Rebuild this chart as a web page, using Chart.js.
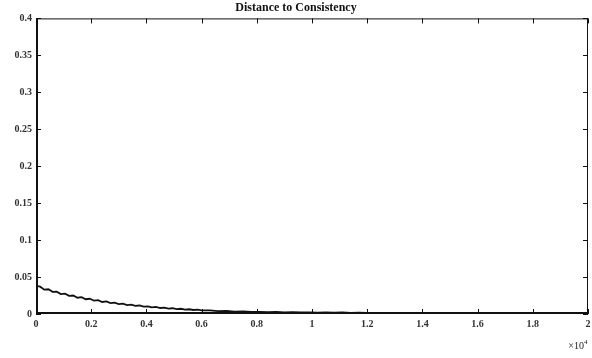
<!DOCTYPE html>
<html lang="en">
<head>
  <meta charset="UTF-8">
  <title>Distance to Consistency</title>
  <style>
    html, body { margin: 0; padding: 0; background: #fff; }
    #wrap { width: 592px; height: 358px; }
  </style>
  <script src="https://cdn.jsdelivr.net/npm/chart.js"></script>
</head>
<body>
  <div id="wrap"><canvas id="chart" width="592" height="358"></canvas></div>
  <script>
    // iterations (x 10^4)
    const iterations = [
      0, 0.015, 0.03, 0.045, 0.06, 0.075, 0.09, 0.105, 0.12, 0.135, 0.15, 0.165, 0.18, 0.195,
      0.21, 0.225, 0.24, 0.255, 0.27, 0.285, 0.3, 0.315, 0.33, 0.345, 0.36, 0.375, 0.39, 0.405,
      0.42, 0.435, 0.45, 0.465, 0.48, 0.495, 0.51, 0.525, 0.54, 0.555, 0.57, 0.585, 0.6,
      0.63, 0.66, 0.69, 0.72, 0.75, 0.78, 0.81, 0.84, 0.87, 0.9, 0.93, 0.96, 0.99,
      1.02, 1.05, 1.08, 1.11, 1.14, 1.17, 1.2, 1.25, 1.3, 1.4, 1.5, 1.6, 1.7, 1.8, 1.9, 2.0
    ];
    // distance to consistency
    const distance = [
      0.038, 0.037, 0.033, 0.0335, 0.030, 0.0303, 0.027, 0.0275, 0.0245, 0.025, 0.022, 0.0227, 0.020, 0.0206,
      0.018, 0.0187, 0.0163, 0.017, 0.0148, 0.0154, 0.0133, 0.014, 0.0121, 0.0127, 0.0109, 0.0115, 0.0099, 0.0104,
      0.0089, 0.0095, 0.0081, 0.0086, 0.0073, 0.0078, 0.0066, 0.0071, 0.006, 0.0064, 0.0054, 0.0058, 0.0049,
      0.005, 0.004, 0.0041, 0.0032, 0.0034, 0.0027, 0.0029, 0.0024, 0.0027, 0.0022, 0.0025, 0.002, 0.0023,
      0.0019, 0.0021, 0.0017, 0.002, 0.0016, 0.0018, 0.0014, 0.0013, 0.0011, 0.001, 0.0008, 0.0007, 0.0006, 0.0005, 0.0004, 0.0004
    ];
    const xTicks = [0, 0.2, 0.4, 0.6, 0.8, 1, 1.2, 1.4, 1.6, 1.8, 2];
    const yTicks = [0, 0.05, 0.1, 0.15, 0.2, 0.25, 0.3, 0.35, 0.4];

    const serif = "'Liberation Serif', 'DejaVu Serif', serif";

    // matlab-like frame: box + inward ticks on all four sides
    const framePlugin = {
      id: 'frame',
      afterDraw(chart) {
        const ctx = chart.ctx;
        const a = chart.chartArea;
        const xs = chart.scales.x, ys = chart.scales.y;
        ctx.save();
        ctx.strokeStyle = '#111';
        ctx.lineWidth = 1;
        ctx.strokeRect(a.left + 0.5, a.top + 0.5, a.right - a.left - 1, a.bottom - a.top - 1);
        ctx.lineWidth = 2;
        ctx.beginPath();
        ctx.moveTo(a.left + 1, a.top);
        ctx.lineTo(a.left + 1, a.bottom - 1);
        ctx.lineTo(a.right, a.bottom - 1);
        ctx.stroke();
        ctx.lineWidth = 1;
        ctx.beginPath();
        const len = 5;
        xTicks.forEach(v => {
          const px = Math.round(xs.getPixelForValue(v)) + 0.5;
          ctx.moveTo(px, a.bottom); ctx.lineTo(px, a.bottom - len);
          ctx.moveTo(px, a.top); ctx.lineTo(px, a.top + len);
        });
        yTicks.forEach(v => {
          const py = Math.round(ys.getPixelForValue(v)) + 0.5;
          ctx.moveTo(a.left, py); ctx.lineTo(a.left + len, py);
          ctx.moveTo(a.right, py); ctx.lineTo(a.right - len, py);
        });
        ctx.stroke();
        // exponent label
        ctx.fillStyle = '#222';
        ctx.font = '10px ' + serif;
        ctx.textAlign = 'right';
        ctx.textBaseline = 'alphabetic';
        ctx.fillText('\u00d710', a.right - 4, 349);
        ctx.font = '7px ' + serif;
        ctx.textAlign = 'left';
        ctx.fillText('4', a.right - 4, 344);
        ctx.restore();
      }
    };

    new Chart(document.getElementById('chart'), {
      type: 'line',
      data: {
        datasets: [{
          data: iterations.map((x, i) => ({ x: x, y: distance[i] })),
          borderColor: '#111',
          borderWidth: 1.8,
          pointRadius: 0,
          tension: 0
        }]
      },
      options: {
        responsive: false,
        animation: false,
        layout: { padding: { left: 0, right: 0, top: 0, bottom: 0 } },
        plugins: {
          legend: { display: false },
          tooltip: { enabled: false },
          title: {
            display: true,
            text: 'Distance to Consistency',
            color: '#111',
            font: { family: serif, size: 12, weight: 'bold' },
            padding: { top: 1, bottom: 3 }
          }
        },
        scales: {
          x: {
            type: 'linear',
            min: 0,
            max: 2,
            afterBuildTicks: s => { s.ticks = xTicks.map(v => ({ value: v })); },
            afterFit: s => { s.height = 44; s.paddingRight = 4; },
            grid: { display: false, drawTicks: false },
            border: { display: false },
            ticks: {
              color: '#333',
              font: { family: serif, size: 10, weight: 'bold' },
              padding: 4,
              maxRotation: 0,
              callback: v => String(v)
            }
          },
          y: {
            min: 0,
            max: 0.4,
            afterBuildTicks: s => { s.ticks = yTicks.map(v => ({ value: v })); },
            afterFit: s => { s.width = 36; },
            grid: { display: false, drawTicks: false },
            border: { display: false },
            ticks: {
              color: '#333',
              font: { family: serif, size: 10, weight: 'bold' },
              padding: 4,
              callback: v => String(v)
            }
          }
        }
      },
      plugins: [framePlugin]
    });
  </script>
</body>
</html>
